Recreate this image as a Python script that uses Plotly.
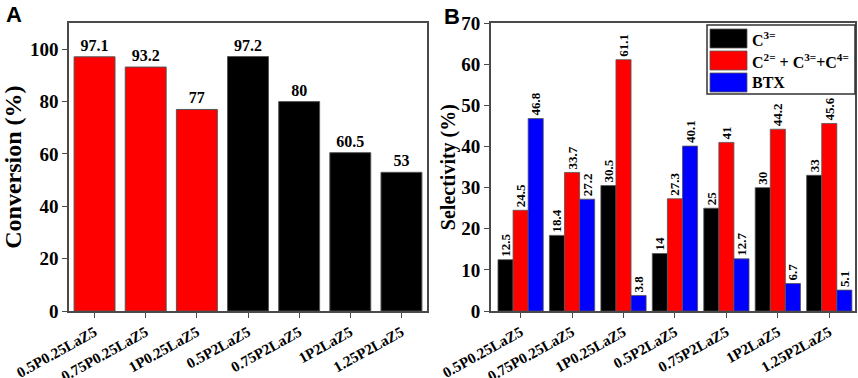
import plotly.graph_objects as go

categories = ["0.5P0.25LaZ5", "0.75P0.25LaZ5", "1P0.25LaZ5", "0.5P2LaZ5",
              "0.75P2LaZ5", "1P2LaZ5", "1.25P2LaZ5"]
conversion = [97.1, 93.2, 77, 97.2, 80, 60.5, 53]
conversion_colors = ["#FF0000", "#FF0000", "#FF0000", "#000000", "#000000", "#000000", "#000000"]
conversion_labels = ["97.1", "93.2", "77", "97.2", "80", "60.5", "53"]

sel_c3 = [12.5, 18.4, 30.5, 14, 25, 30, 33]
sel_c234 = [24.5, 33.7, 61.1, 27.3, 41, 44.2, 45.6]
sel_btx = [46.8, 27.2, 3.8, 40.1, 12.7, 6.7, 5.1]
series_names = ["C<sup>3=</sup>", "C<sup>2=</sup> + C<sup>3=</sup>+C<sup>4=</sup>", "BTX"]
series_colors = ["#000000", "#FF0000", "#0000FF"]

FONT = "Liberation Serif"
AX = "#4a4a4a"
W, H = 858, 378

fig = go.Figure()

fig.add_trace(go.Bar(
    x=categories, y=conversion, marker=dict(color=conversion_colors, line=dict(color="#555555", width=1)),
    text=conversion_labels, textposition="outside", cliponaxis=False, constraintext="none",
    textfont=dict(family=FONT, size=16, color="black", weight="bold"), width=0.8,
    xaxis="x", yaxis="y", showlegend=False))

for name, vals, col in zip(series_names, [sel_c3, sel_c234, sel_btx], series_colors):
    fig.add_trace(go.Bar(
        x=categories, y=vals, name=name, marker=dict(color=col, line=dict(color="#555555", width=0.8)),
        text=[str(v) for v in vals], textposition="outside", textangle=-90, cliponaxis=False,
        constraintext="none", textfont=dict(family=FONT, size=13, color="black", weight="bold"),
        xaxis="x2", yaxis="y2", offsetgroup=name, showlegend=False))

# custom legend box (larger swatches, as in the original figure)
def px_x(p): return p / W
def px_y(p): return 1 - p / H

shapes = [dict(type="rect", xref="paper", yref="paper", x0=px_x(707), x1=px_x(855),
               y0=px_y(94), y1=px_y(25), line=dict(color="#333333", width=1.5), fillcolor="white")]
annotations = []
row_tops = [29, 51, 73]
for name, col, top in zip(series_names, series_colors, row_tops):
    shapes.append(dict(type="rect", xref="paper", yref="paper", x0=px_x(710), x1=px_x(747),
                       y0=px_y(top + 19), y1=px_y(top), line=dict(color="#555555", width=0.8),
                       fillcolor=col))
    annotations.append(dict(text=name, x=px_x(750), y=px_y(top + 10), xref="paper", yref="paper",
                            xanchor="left", yanchor="middle", showarrow=False,
                            font=dict(family=FONT, size=16, weight="bold", color="black")))

annotations += [
    dict(text="A", x=0.005, y=1.0, xref="paper", yref="paper", xanchor="left", yanchor="top",
         showarrow=False, font=dict(family="Liberation Sans", size=22, weight="bold")),
    dict(text="B", x=0.515, y=0.995, xref="paper", yref="paper", xanchor="left", yanchor="top",
         showarrow=False, font=dict(family="Liberation Sans", size=22, weight="bold")),
]

axis_common = dict(showline=True, linecolor=AX, linewidth=1.5, mirror=True, ticks="outside",
                   tickcolor=AX, ticklen=5, showgrid=False, zeroline=False, automargin=False)

fig.update_layout(
    width=W, height=H, margin=dict(l=0, r=0, t=0, b=0),
    plot_bgcolor="white", paper_bgcolor="white",
    font=dict(family=FONT, color="black"),
    barmode="group", bargap=0.12, bargroupgap=0, showlegend=False,
    xaxis=dict(domain=[0.0804, 0.4977], anchor="y", range=[-0.5, 6.5], tickangle=-29,
               tickfont=dict(family=FONT, size=15, weight="bold"), **axis_common),
    yaxis=dict(domain=[0.177, 0.939], anchor="x", range=[0, 110], tickvals=[0, 20, 40, 60, 80, 100],
               tickfont=dict(family=FONT, size=19, weight="bold"),
               title=dict(text="Conversion (%)", font=dict(family=FONT, size=24, weight="bold"), standoff=6),
               **axis_common),
    xaxis2=dict(domain=[0.572, 0.9965], anchor="y2", range=[-0.58, 6.5], tickangle=-29,
                tickfont=dict(family=FONT, size=15, weight="bold"), **axis_common),
    yaxis2=dict(domain=[0.177, 0.939], anchor="x2", range=[0, 70], tickvals=[0, 10, 20, 30, 40, 50, 60, 70],
                tickfont=dict(family=FONT, size=19, weight="bold"),
                title=dict(text="Selectivity (%)", font=dict(family=FONT, size=20, weight="bold"), standoff=0),
                **axis_common),
    shapes=shapes,
    annotations=annotations,
)

fig.write_html("out.html", config={"displayModeBar": False},
               post_script="document.body.style.margin='0';document.body.style.padding='0';")
